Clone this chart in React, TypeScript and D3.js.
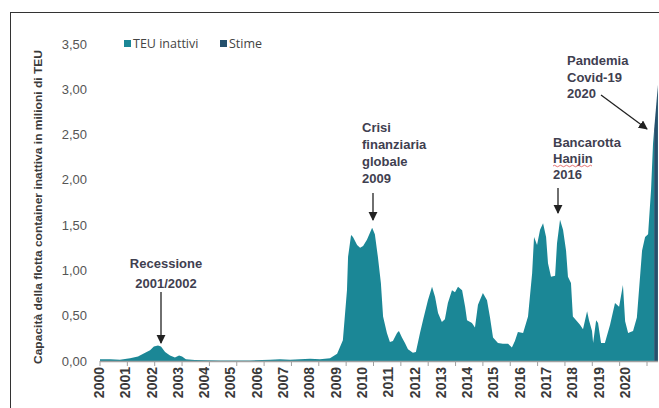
import * as d3 from 'd3';

// idle fleet, decimal year -> million TEU
const years = [
  2000.0, 2000.37, 2000.73, 2001.1, 2001.39, 2001.65, 2001.83, 2001.97, 2002.12, 2002.23,
  2002.38, 2002.56, 2002.74, 2002.89, 2003.0, 2003.14, 2003.47, 2004.39, 2005.48, 2006.22,
  2006.58, 2006.95, 2007.31, 2007.68, 2008.04, 2008.41, 2008.67, 2008.88, 2009.03, 2009.07,
  2009.18, 2009.25, 2009.4, 2009.51, 2009.62, 2009.76, 2009.95, 2010.05, 2010.16, 2010.27,
  2010.35, 2010.49, 2010.6, 2010.71, 2010.86, 2010.93, 2011.04, 2011.15, 2011.26, 2011.44,
  2011.55, 2011.7, 2011.81, 2011.99, 2012.14, 2012.25, 2012.36, 2012.5, 2012.61, 2012.72,
  2012.87, 2012.98, 2013.09, 2013.24, 2013.35, 2013.42, 2013.6, 2013.71, 2013.82, 2014.0,
  2014.15, 2014.26, 2014.37, 2014.55, 2014.73, 2014.92, 2015.06, 2015.17, 2015.28, 2015.47,
  2015.65, 2015.8, 2015.87, 2015.98, 2016.09, 2016.2, 2016.31, 2016.38, 2016.49, 2016.64,
  2016.71, 2016.82, 2016.93, 2017.04, 2017.11, 2017.22, 2017.29, 2017.44, 2017.55, 2017.66,
  2017.81, 2017.88, 2017.99, 2018.03, 2018.14, 2018.21, 2018.32, 2018.46, 2018.65, 2018.83,
  2018.98, 2019.12, 2019.2, 2019.31, 2019.49, 2019.63, 2019.82, 2019.93, 2020.04, 2020.15,
  2020.22, 2020.26,
];
const idle = [
  0.02, 0.02, 0.015, 0.03, 0.05, 0.09, 0.12, 0.16, 0.17, 0.16,
  0.1, 0.06, 0.04, 0.06, 0.05, 0.02, 0.01, 0.005, 0.005, 0.015,
  0.02, 0.015, 0.02, 0.025, 0.02, 0.03, 0.08, 0.23, 0.78, 1.15,
  1.39, 1.37, 1.28, 1.25, 1.27, 1.34, 1.47, 1.4, 1.15, 0.86,
  0.49, 0.31, 0.21, 0.22, 0.31, 0.33, 0.26, 0.2, 0.13, 0.09,
  0.1, 0.31, 0.45, 0.67, 0.82, 0.71, 0.53, 0.43, 0.46, 0.64,
  0.78, 0.76, 0.82, 0.78, 0.6, 0.45, 0.42, 0.37, 0.62, 0.75,
  0.67, 0.48, 0.26, 0.2, 0.19, 0.19, 0.15, 0.22, 0.32, 0.31,
  0.49, 0.97, 1.37, 1.28, 1.45, 1.52, 1.37, 1.08, 0.93, 0.94,
  1.3, 1.56, 1.45, 1.22, 0.93, 0.86, 0.49, 0.44, 0.4, 0.35,
  0.55, 0.45, 0.33, 0.2, 0.45, 0.42, 0.2, 0.2, 0.4, 0.64,
  0.6, 0.84, 0.44, 0.31, 0.33, 0.48, 1.22, 1.37, 1.4, 1.9,
  2.4, 2.55,
];
// estimates (Stime)
const estYears = [2020.26, 2020.33, 2020.4];
const estimates = [2.55, 2.8, 3.05];

const tickYears = d3.range(2000, 2021);
const yTicks = [0, 0.5, 1, 1.5, 2, 2.5, 3, 3.5];

const TEAL = '#1b8796';
const DARK = '#24506c';
const ANNO = '#3f4050';

interface Pt { t: number; v: number }

export default function App() {
  const x = d3.scaleLinear().domain([2000, 2020]).range([100, 647]);
  // Excel placed the year labels a little tighter than the ticks
  const xLabel = d3.scaleLinear().domain([2000, 2020]).range([99, 625]);
  const y = d3.scaleLinear().domain([0, 3.5]).range([361, 44]);

  const main: Pt[] = years.map((t, i) => ({ t, v: idle[i] }));
  const est: Pt[] = estYears.map((t, i) => ({ t, v: estimates[i] }));

  const area = d3.area<Pt>()
    .x(d => x(d.t))
    .y0(y(0))
    .y1(d => y(d.v))
    .curve(d3.curveLinear);

  const fmt = (d: number) => d.toFixed(2).replace('.', ',');

  const bold = { fontFamily: 'Liberation Sans, Arial, sans-serif', fontWeight: 700, fontSize: 13, fill: ANNO };

  return (
    <svg width={659} height={408} style={{ position: 'absolute', left: 0, top: 0, background: '#fff' }}>
      {/* frame */}
      <rect x={10.5} y={12.5} width={660} height={420} fill="none" stroke="#333" strokeWidth={1} />

      {/* y axis title */}
      <text
        transform="translate(42,207) rotate(-90)"
        textAnchor="middle"
        textLength={314}
        lengthAdjust="spacingAndGlyphs"
        style={{ fontFamily: 'Liberation Sans, Arial, sans-serif', fontWeight: 700, fontSize: 11, fill: '#3a3a3a' }}
      >
        Capacità della flotta container inattiva  in milioni di TEU
      </text>

      {/* y tick labels */}
      {yTicks.map(t => (
        <text key={t} x={87} y={y(t)} dy="0.35em" textAnchor="end"
          style={{ fontFamily: 'Liberation Sans, Arial, sans-serif', fontSize: 13, fill: '#555' }}>
          {fmt(t)}
        </text>
      ))}

      {/* areas */}
      <path d={area(main) ?? ''} fill={TEAL} />
      <path d={area(est) ?? ''} fill={DARK} />

      {/* x axis */}
      <line x1={100} x2={658} y1={361.5} y2={361.5} stroke="#a0a0a0" strokeWidth={1.5} />
      {tickYears.map(t => (
        <line key={t} x1={x(t)} x2={x(t)} y1={361} y2={366} stroke="#a0a0a0" strokeWidth={1} />
      ))}
      {tickYears.map(t => (
        <text key={'l' + t} transform={`translate(${xLabel(t)},367) rotate(-90)`} dy="0.35em" textAnchor="end"
          style={{ fontFamily: 'Liberation Sans, Arial, sans-serif', fontWeight: 700, fontSize: 14, fill: '#3a3a3a' }}>
          {t}
        </text>
      ))}

      {/* legend */}
      <rect x={124} y={40} width={7} height={7} fill={TEAL} />
      <text x={133} y={44} dy="0.35em" style={{ fontFamily: 'Open Sans, sans-serif', fontSize: 12.5, fill: '#444' }}>TEU inattivi</text>
      <rect x={220} y={40} width={7} height={7} fill={DARK} />
      <text x={229} y={44} dy="0.35em" style={{ fontFamily: 'Open Sans, sans-serif', fontSize: 12.5, fill: '#444' }}>Stime</text>

      <defs>
        <marker id="ah" viewBox="0 0 10 10" refX={9} refY={5} markerWidth={7} markerHeight={7} orient="auto-start-reverse">
          <path d="M0,0 L10,5 L0,10 z" fill="#222" />
        </marker>
      </defs>

      {/* Recessione */}
      <text x={166} y={268} textAnchor="middle" style={bold}>Recessione</text>
      <text x={166} y={288} textAnchor="middle" style={bold}>2001/2002</text>
      <line x1={161} x2={161} y1={292} y2={343} stroke="#222" strokeWidth={1.3} markerEnd="url(#ah)" />

      {/* Crisi */}
      {['Crisi', 'finanziaria', 'globale', '2009'].map((s, i) => (
        <text key={s} x={362} y={132 + i * 17} style={bold}>{s}</text>
      ))}
      <line x1={373} x2={373} y1={193} y2={220} stroke="#222" strokeWidth={1.3} markerEnd="url(#ah)" />

      {/* Hanjin */}
      {['Bancarotta', 'Hanjin', '2016'].map((s, i) => (
        <text key={s} x={553} y={147 + i * 16} style={bold}>{s}</text>
      ))}
      <path d="M553,166 q1.5,-1.5 3,0 t3,0 t3,0 t3,0 t3,0 t3,0 t3,0 t3,0 t3,0 t3,0 t3,0 t3,0 t3,0" fill="none" stroke="#e05050" strokeWidth={0.8} />
      <line x1={558} x2={558} y1={188} y2={213} stroke="#222" strokeWidth={1.3} markerEnd="url(#ah)" />

      {/* Pandemia */}
      {['Pandemia', 'Covid-19', '2020'].map((s, i) => (
        <text key={s} x={567} y={65 + i * 16.5} style={bold}>{s}</text>
      ))}
      <line x1={601} x2={647} y1={95} y2={129} stroke="#222" strokeWidth={1.3} markerEnd="url(#ah)" />
    </svg>
  );
}
